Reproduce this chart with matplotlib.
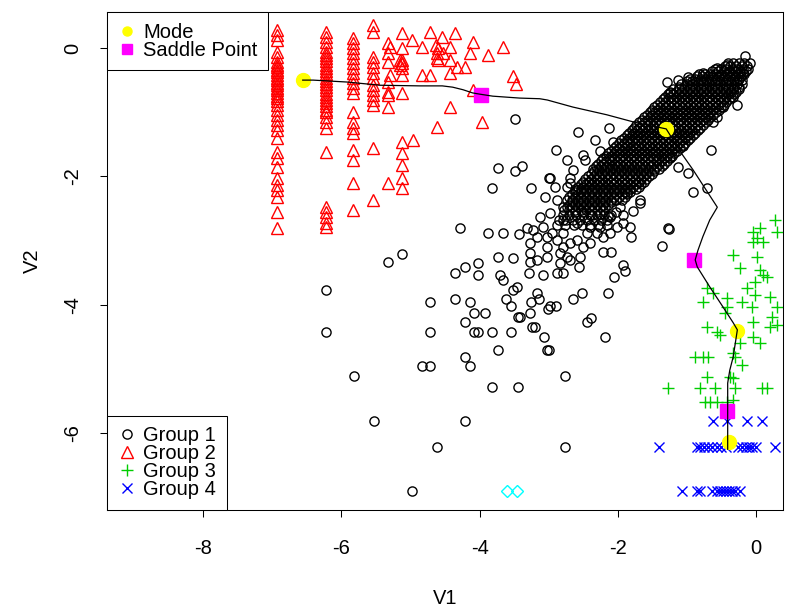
import matplotlib
matplotlib.use("Agg")
import matplotlib.pyplot as plt
from matplotlib.lines import Line2D

plt.rcParams['font.family'] = ['Liberation Sans', 'DejaVu Sans']
plt.rcParams['axes.unicode_minus'] = False

# ---- group 1 (black circles): dense core, one row of x values per y level
core_y = [-0.24, -0.28, -0.32, -0.36, -0.40, -0.44, -0.48, -0.52, -0.56, -0.60,
          -0.64, -0.68, -0.72, -0.76, -0.80, -0.84, -0.88, -0.92, -0.96, -1.00,
          -1.04, -1.08, -1.12, -1.16, -1.20, -1.24, -1.28, -1.32, -1.36, -1.40,
          -1.44, -1.48, -1.52, -1.56, -1.60, -1.64, -1.68, -1.72, -1.76, -1.80,
          -1.84, -1.88, -1.92, -1.96, -2.00, -2.04, -2.08, -2.12, -2.16, -2.20,
          -2.24, -2.28, -2.32, -2.36, -2.40, -2.44, -2.48, -2.52, -2.60, -2.68, -2.76]
core_x = [
    [-0.41, -0.33, -0.25, -0.17, -0.09],
    [-0.45, -0.37, -0.29, -0.21, -0.13],
    [-0.59, -0.51, -0.43, -0.35, -0.27, -0.19, -0.11],
    [-0.63, -0.55, -0.47, -0.39, -0.31, -0.23, -0.15],
    [-0.82, -0.74, -0.66, -0.58, -0.50, -0.42, -0.34, -0.26, -0.18],
    [-0.86, -0.78, -0.70, -0.62, -0.54, -0.46, -0.38, -0.30, -0.22],
    [-0.96, -0.88, -0.80, -0.72, -0.64, -0.56, -0.48, -0.40, -0.32, -0.24],
    [-1.00, -0.92, -0.84, -0.76, -0.68, -0.60, -0.52, -0.44, -0.36, -0.28],
    [-1.08, -1.00, -0.92, -0.84, -0.76, -0.68, -0.60, -0.52, -0.44, -0.36, -0.28, -0.20],
    [-1.12, -1.04, -0.96, -0.88, -0.80, -0.72, -0.64, -0.56, -0.48, -0.40, -0.32, -0.24],
    [-1.20, -1.12, -1.04, -0.96, -0.88, -0.80, -0.72, -0.64, -0.56, -0.48, -0.40, -0.33, -0.25],
    [-1.24, -1.16, -1.08, -1.00, -0.92, -0.84, -0.76, -0.68, -0.60, -0.52, -0.44, -0.37, -0.29],
    [-1.28, -1.20, -1.12, -1.04, -0.96, -0.88, -0.80, -0.72, -0.64, -0.56, -0.48, -0.40, -0.32],
    [-1.32, -1.24, -1.16, -1.08, -1.00, -0.92, -0.84, -0.76, -0.68, -0.60, -0.52, -0.44, -0.36],
    [-1.35, -1.27, -1.19, -1.11, -1.03, -0.95, -0.87, -0.79, -0.71, -0.63, -0.55, -0.47, -0.39],
    [-1.39, -1.31, -1.23, -1.15, -1.07, -0.99, -0.91, -0.83, -0.75, -0.67, -0.59, -0.51, -0.43],
    [-1.43, -1.35, -1.27, -1.19, -1.11, -1.03, -0.95, -0.87, -0.79, -0.71, -0.63, -0.55, -0.47],
    [-1.47, -1.39, -1.31, -1.23, -1.15, -1.07, -0.99, -0.91, -0.83, -0.75, -0.67, -0.59, -0.51],
    [-1.50, -1.42, -1.34, -1.26, -1.18, -1.10, -1.02, -0.94, -0.86, -0.78, -0.70, -0.62, -0.54],
    [-1.54, -1.46, -1.38, -1.30, -1.22, -1.14, -1.06, -0.98, -0.90, -0.82, -0.74, -0.66, -0.58],
    [-1.58, -1.50, -1.42, -1.34, -1.26, -1.18, -1.10, -1.02, -0.94, -0.86, -0.78, -0.70, -0.62],
    [-1.62, -1.54, -1.46, -1.38, -1.30, -1.22, -1.14, -1.06, -0.98, -0.90, -0.82, -0.74, -0.66],
    [-1.65, -1.57, -1.49, -1.41, -1.33, -1.25, -1.17, -1.09, -1.01, -0.93, -0.85, -0.77, -0.69],
    [-1.69, -1.61, -1.53, -1.45, -1.37, -1.29, -1.21, -1.13, -1.05, -0.97, -0.89, -0.81, -0.73],
    [-1.73, -1.65, -1.57, -1.49, -1.41, -1.33, -1.25, -1.17, -1.09, -1.01, -0.93, -0.85, -0.77],
    [-1.77, -1.69, -1.61, -1.53, -1.45, -1.37, -1.29, -1.21, -1.13, -1.05, -0.97, -0.89, -0.81],
    [-1.80, -1.72, -1.64, -1.56, -1.48, -1.40, -1.32, -1.24, -1.16, -1.08, -1.00, -0.92, -0.84],
    [-1.84, -1.76, -1.68, -1.60, -1.52, -1.44, -1.36, -1.28, -1.20, -1.12, -1.04, -0.96, -0.88],
    [-1.87, -1.79, -1.71, -1.63, -1.55, -1.47, -1.39, -1.31, -1.23, -1.15, -1.07, -0.99, -0.91],
    [-1.91, -1.83, -1.75, -1.67, -1.59, -1.51, -1.43, -1.35, -1.27, -1.19, -1.11, -1.03, -0.95],
    [-1.95, -1.87, -1.79, -1.71, -1.63, -1.55, -1.47, -1.39, -1.31, -1.23, -1.15, -1.07, -0.99],
    [-1.99, -1.91, -1.83, -1.75, -1.67, -1.59, -1.51, -1.43, -1.35, -1.27, -1.19, -1.11, -1.03],
    [-2.02, -1.94, -1.86, -1.78, -1.70, -1.62, -1.54, -1.46, -1.38, -1.30, -1.22, -1.14, -1.06],
    [-2.06, -1.98, -1.90, -1.82, -1.74, -1.66, -1.58, -1.50, -1.42, -1.34, -1.26, -1.18, -1.10],
    [-2.10, -2.02, -1.94, -1.86, -1.78, -1.70, -1.62, -1.54, -1.46, -1.38, -1.30, -1.22, -1.14],
    [-2.14, -2.06, -1.98, -1.90, -1.82, -1.74, -1.66, -1.58, -1.50, -1.42, -1.34, -1.26, -1.18],
    [-2.17, -2.09, -2.01, -1.93, -1.85, -1.77, -1.69, -1.61, -1.53, -1.45, -1.37, -1.29, -1.21],
    [-2.21, -2.13, -2.05, -1.97, -1.89, -1.81, -1.73, -1.65, -1.57, -1.49, -1.41, -1.33, -1.25],
    [-2.25, -2.17, -2.09, -2.01, -1.93, -1.85, -1.77, -1.69, -1.61, -1.53, -1.45, -1.37, -1.29],
    [-2.29, -2.21, -2.13, -2.05, -1.97, -1.89, -1.81, -1.73, -1.65, -1.57, -1.49, -1.41, -1.33],
    [-2.32, -2.24, -2.16, -2.08, -2.00, -1.92, -1.84, -1.76, -1.68, -1.60, -1.52, -1.44, -1.36],
    [-2.36, -2.28, -2.20, -2.12, -2.04, -1.96, -1.88, -1.80, -1.72, -1.64, -1.56, -1.48, -1.40],
    [-2.35, -2.27, -2.19, -2.11, -2.03, -1.95, -1.87, -1.79, -1.71, -1.63, -1.55, -1.47],
    [-2.39, -2.31, -2.23, -2.15, -2.07, -1.99, -1.91, -1.83, -1.75, -1.67, -1.59, -1.51],
    [-2.43, -2.35, -2.27, -2.19, -2.11, -2.03, -1.95, -1.87, -1.79, -1.71, -1.63, -1.55],
    [-2.47, -2.39, -2.31, -2.23, -2.15, -2.07, -1.99, -1.91, -1.83, -1.75, -1.67, -1.59],
    [-2.50, -2.42, -2.34, -2.26, -2.18, -2.10, -2.02, -1.94, -1.86, -1.78, -1.70, -1.62],
    [-2.54, -2.46, -2.38, -2.30, -2.22, -2.14, -2.06, -1.98, -1.90, -1.82, -1.74, -1.66],
    [-2.58, -2.50, -2.42, -2.34, -2.26, -2.18, -2.10, -2.02, -1.94, -1.86, -1.78, -1.70],
    [-2.62, -2.54, -2.46, -2.38, -2.30, -2.22, -2.14, -2.06, -1.98, -1.90, -1.82, -1.74],
    [-2.62, -2.54, -2.46, -2.38, -2.30, -2.22, -2.14, -2.06, -1.98, -1.90, -1.82],
    [-2.66, -2.58, -2.50, -2.42, -2.34, -2.26, -2.18, -2.10, -2.02, -1.94, -1.86],
    [-2.70, -2.62, -2.54, -2.46, -2.38, -2.30, -2.22, -2.14, -2.06, -1.98, -1.90],
    [-2.74, -2.66, -2.58, -2.50, -2.42, -2.34, -2.26, -2.18, -2.10, -2.02, -1.94],
    [-2.66, -2.58, -2.50, -2.42, -2.34, -2.26, -2.18, -2.10],
    [-2.70, -2.62, -2.54, -2.46, -2.38, -2.30, -2.22, -2.14],
    [-2.74, -2.66, -2.58, -2.50, -2.42, -2.34, -2.26, -2.18],
    [-2.78, -2.70, -2.62, -2.54, -2.46, -2.38, -2.30, -2.22],
    [-2.80, -2.70, -2.60, -2.50, -2.40, -2.30, -2.20, -2.10],
    [-2.85, -2.75, -2.65, -2.55, -2.45, -2.35, -2.25, -2.15],
    [-2.88, -2.76, -2.64, -2.52, -2.40, -2.28, -2.16],
]

# group 1: scattered points around the core
g1_pts = [
    (-3.49, -1.11), (-2.58, -1.31), (-2.13, -1.25), (-2.89, -1.59), (-2.50, -1.67), (-2.26, -1.60),
    (-3.73, -1.87), (-3.49, -1.92), (-3.39, -1.84), (-3.82, -2.18), (-3.26, -2.18), (-3.00, -2.02),
    (-4.28, -2.80), (-3.88, -2.88), (-3.66, -2.88), (-3.43, -2.90), (-1.81, -2.94),
    (-5.33, -3.33), (-5.12, -3.21), (-4.36, -3.50), (-4.21, -3.41), (-4.02, -3.35), (-4.02, -3.54),
    (-3.73, -3.26), (-3.52, -3.27), (-3.70, -3.54), (-3.66, -3.61), (-3.29, -3.50), (-3.27, -3.33),
    (-3.08, -3.54), (-2.88, -3.50), (-2.79, -3.50), (-2.55, -3.26), (-2.56, -3.41), (-2.21, -3.18),
    (-2.10, -3.18), (-1.92, -3.38), (-1.90, -3.47), (-2.05, -3.57),
    (-4.72, -3.96), (-4.36, -3.91), (-4.14, -3.96), (-4.08, -4.13), (-3.92, -4.13), (-4.21, -4.27),
    (-4.08, -4.42), (-4.02, -4.42), (-3.82, -4.42), (-3.55, -4.42), (-4.72, -4.42), (-3.62, -3.91),
    (-3.55, -4.02), (-3.52, -3.77), (-3.46, -3.72), (-3.44, -4.19), (-3.42, -4.19), (-3.26, -3.96),
    (-3.27, -4.13), (-3.24, -4.35), (-3.20, -4.35), (-3.17, -3.82), (-3.14, -3.91), (-3.01, -4.07),
    (-2.98, -4.02), (-2.89, -4.02), (-3.07, -4.50), (-3.02, -4.70), (-3.00, -4.70), (-3.73, -4.70),
    (-2.65, -3.91), (-2.52, -3.82), (-2.14, -3.82), (-2.45, -4.27), (-2.39, -4.21), (-2.19, -4.50),
    (-4.21, -4.81), (-4.14, -4.95), (-4.83, -4.95), (-4.72, -4.95), (-5.82, -5.11), (-3.82, -5.28),
    (-3.44, -5.28), (-2.76, -5.11), (-5.53, -5.81), (-4.21, -5.81), (-4.62, -6.21), (-2.76, -6.21),
    (-4.98, -6.90), (-6.22, -3.77), (-6.22, -4.42), (-0.16, -0.12), (-0.27, -0.89), (-0.65, -1.59),
    # looser lower end of the cluster
    (-3.31, -2.80), (-3.23, -2.83), (-3.17, -2.94), (-3.27, -3.04), (-3.08, -2.79), (-3.02, -2.94),
    (-2.95, -2.88), (-2.88, -2.99), (-2.79, -2.88), (-2.69, -3.04), (-2.59, -2.99), (-2.50, -3.10),
    (-2.40, -3.04), (-2.30, -2.88), (-2.21, -2.94), (-2.11, -2.88), (-2.01, -2.79), (-1.92, -2.73),
    (-3.27, -3.19), (-3.17, -3.30), (-3.02, -3.26), (-2.84, -3.19), (-2.74, -3.26), (-2.84, -3.35),
    (-2.69, -3.30), (-3.02, -3.10), (-2.79, -3.10), (-3.13, -2.63), (-2.98, -2.57), (-2.79, -2.68),
    (-2.59, -2.73), (-2.40, -2.79), (-2.79, -2.48), (-2.88, -2.37), (-2.69, -2.10), (-2.98, -2.02),
    (-2.91, -2.16), (-3.05, -2.32), (-2.59, -2.21), (-2.62, -2.56), (-2.50, -2.56), (-2.38, -2.60),
    (-2.26, -2.58), (-2.14, -2.62), (-2.02, -2.56),
    # fringe of the core
    (-2.74, -1.74), (-2.74, -2.17), (-2.69, -2.02), (-2.07, -1.46), (-2.11, -1.74), (-1.87, -1.48),
    (-1.72, -1.43), (-1.43, -1.74), (-1.24, -1.70), (-1.13, -1.85), (-0.98, -1.95), (-1.06, -1.51),
    (-0.62, -1.15), (-0.56, -1.07), (-0.48, -0.92), (-0.33, -0.76), (-0.20, -0.50), (-0.19, -0.39),
    (-0.71, -2.18), (-0.91, -2.24), (-1.27, -2.80), (-1.17, -1.56), (-1.29, -0.53), (-1.13, -0.50),
    (-1.24, -0.70), (-0.98, -0.45), (-0.77, -0.39), (-0.56, -0.31), (-0.42, -0.26), (-2.33, -1.43),
    (-2.47, -1.74), (-2.65, -1.90), (-1.87, -2.26), (-1.68, -2.37), (-1.97, -2.48), (-1.68, -2.41),
    (-2.11, -2.63), (-2.26, -2.79), (-1.82, -2.79), (-2.45, -2.88), (-1.78, -2.54), (-1.92, -2.60),
    (-1.26, -2.82), (-1.36, -3.08),
]

# ---- group 2 (red triangles): four columns plus a looser spread
g2_col_x = [-6.93, -6.22, -5.83, -5.54]
g2_col_y = [
    [0.28, 0.20, 0.12, -0.06, -0.14, -0.22, -0.26, -0.30, -0.34, -0.38, -0.42, -0.46, -0.50,
     -0.54, -0.58, -0.62, -0.66, -0.70, -0.74, -0.78, -0.82, -0.89, -0.97, -1.04, -1.12,
     -1.20, -1.28, -1.40, -1.62, -1.71, -1.85, -2.02, -2.13, -2.21, -2.32, -2.55, -2.80],
    [0.25, 0.17, 0.09, 0.02, -0.06, -0.11, -0.16, -0.21, -0.26, -0.31, -0.36, -0.41, -0.46,
     -0.51, -0.56, -0.61, -0.66, -0.71, -0.76, -0.81, -0.86, -0.91, -0.96, -1.00, -1.07,
     -1.15, -1.25, -1.62, -2.48, -2.55, -2.63, -2.73, -2.79],
    [0.16, 0.08, 0.00, -0.08, -0.16, -0.23, -0.31, -0.39, -0.47, -0.55, -0.62, -0.70, -1.00,
     -1.15, -1.25, -1.32, -1.59, -1.74, -2.10, -2.52],
    [0.36, 0.25, -0.14, -0.22, -0.30, -0.39, -0.47, -0.58, -0.65, -0.73, -0.81, -0.89, -1.56, -2.37],
]
g2_pts = [
    (-5.33, 0.08), (-5.33, -0.08), (-5.33, -0.22), (-5.30, -0.42), (-5.33, -0.53), (-5.33, -0.69),
    (-5.33, -0.73), (-5.33, -0.92), (-5.33, -2.10), (-5.12, 0.23), (-5.12, 0.00), (-5.12, -0.19),
    (-5.12, -0.23), (-5.12, -0.31), (-5.12, -0.42), (-5.12, -0.70), (-5.12, -1.46), (-5.12, -1.64),
    (-5.12, -1.82), (-5.12, -2.02), (-5.12, -2.18), (-4.98, 0.12), (-4.96, -1.43), (-4.83, 0.02),
    (-4.72, 0.25), (-4.54, 0.17), (-4.36, 0.23), (-4.72, -0.42), (-4.60, 0.00), (-4.62, -0.08),
    (-4.60, -0.19), (-4.53, -0.08), (-4.43, 0.02), (-4.43, -0.19), (-4.43, -0.39), (-4.21, -0.30),
    (-4.14, -0.08), (-4.10, 0.09), (-3.88, -0.11), (-3.66, 0.02), (-3.52, -0.44), (-3.47, -0.56),
    (-4.43, -0.92), (-4.62, -1.23), (-3.97, -1.15), (-4.10, -0.65), (-4.63, 0.05), (-4.62, -0.16),
    (-5.15, -0.19), (-5.15, -0.26), (-4.33, -0.30), (-4.83, -0.42), (-5.30, 0.01),
]

# ---- group 3 (green plus)
g3_x = [0.28, 0.30, -0.04, 0.06, 0.01, 0.10, -0.04, -0.33, 0.01, -0.23, 0.06, 0.10, 0.16,
        -0.01, -0.13, -0.01, -0.71, -0.62, -0.77, -0.42, -0.42, -0.20, -0.06, 0.20, 0.30,
        0.23, -0.04, -0.71, -0.56, -0.52, 0.20, 0.30, -0.04, 0.06, -0.23, -0.33, -0.88,
        -0.77, -0.70, -0.30, -0.20, -0.33, -0.71, -0.38, -1.27, -0.81, -0.59, -0.30, 0.09,
        0.16, -0.67, -0.56, -0.42, -0.74, -0.33, -0.45]
g3_y = [-2.68, -2.87, -2.87, -2.80, -2.96, -3.02, -3.02, -3.22, -3.26, -3.43, -3.46, -3.54,
        -3.57, -3.64, -3.74, -3.85, -3.74, -3.82, -3.96, -3.89, -4.03, -3.96, -4.03, -3.88,
        -4.03, -4.19, -4.27, -4.35, -4.42, -4.47, -4.35, -4.31, -4.50, -4.60, -4.60, -4.75,
        -4.81, -4.81, -4.81, -4.81, -4.94, -5.14, -5.12, -5.12, -5.30, -5.30, -5.30, -5.30,
        -5.30, -5.30, -5.51, -5.51, -5.51, -5.51, -5.48, -4.13]

# ---- group 4 (blue crosses)
g4_x = [-0.62, -0.42, -0.13, 0.09,
        -1.40, -0.85, -0.81, -0.75, -0.70, -0.64, -0.56, -0.51, -0.43, -0.26, -0.20, -0.15,
        -0.10, -0.06, 0.00, 0.28,
        -1.07, -0.85, -0.81, -0.64, -0.56, -0.52, -0.48, -0.43, -0.39, -0.35, -0.30, -0.23]
g4_y = [-5.81] * 4 + [-6.21] * 16 + [-6.90] * 12

# ---- extra cyan diamonds
g5_x = [-3.60, -3.46]
g5_y = [-6.90, -6.90]

# ---- modes, saddle points and the connecting path
mode_x = [-6.56, -1.30, -0.27, -0.39]
mode_y = [-0.50, -1.26, -4.41, -6.14]
saddle_x = [-3.98, -0.90, -0.42]
saddle_y = [-0.73, -3.30, -5.65]
path_x = [-6.56, -6.41, -5.92, -5.44, -4.86, -4.54, -4.39, -4.24, -4.10, -3.99, -3.81, -3.42,
          -3.13, -3.02, -2.65, -2.16, -1.78, -1.30, -1.06, -0.91, -0.56, -0.67, -0.77, -0.84,
          -0.88, -0.85, -0.67, -0.48, -0.33, -0.27, -0.30, -0.33, -0.38, -0.41, -0.41, -0.41,
          -0.41, -0.41]
path_y = [-0.50, -0.50, -0.53, -0.58, -0.59, -0.59, -0.61, -0.65, -0.70, -0.72, -0.75, -0.78,
          -0.79, -0.81, -0.92, -1.04, -1.15, -1.26, -1.67, -1.90, -2.48, -2.68, -2.94, -3.15,
          -3.30, -3.41, -3.72, -4.03, -4.28, -4.39, -4.60, -4.81, -5.02, -5.22, -5.53, -5.84,
          -6.15, -6.25]

FS = 14.5
fig = plt.figure(figsize=(8.09, 6.12), dpi=100)
ax = fig.add_axes([0.1323, 0.1667, 0.8356, 0.8137])

mew = 1.0
cx, cy = [], []
for yy, row in zip(core_y, core_x):
    for xx in row:
        cx.append(xx)
        cy.append(yy)
ax.plot(cx, cy, ls='none', marker='o', ms=6.6, mfc='none', mec='black', mew=mew)
ax.plot([p[0] for p in g1_pts], [p[1] for p in g1_pts], ls='none', marker='o', ms=6.6,
        mfc='none', mec='black', mew=mew)

for xx, ys in zip(g2_col_x, g2_col_y):
    ax.plot([xx] * len(ys), ys, ls='none', marker='^', ms=8.5, mfc='none', mec='red', mew=mew)
ax.plot([p[0] for p in g2_pts], [p[1] for p in g2_pts], ls='none', marker='^', ms=8.5,
        mfc='none', mec='red', mew=mew)

ax.plot(g3_x, g3_y, ls='none', marker='+', ms=9, mec='#00CD00', mew=mew)
ax.plot(g4_x, g4_y, ls='none', marker='x', ms=7, mec='blue', mew=mew)
ax.plot(g5_x, g5_y, ls='none', marker='D', ms=6.5, mfc='none', mec='cyan', mew=mew)

ax.plot(mode_x, mode_y, ls='none', marker='o', ms=10, mfc='yellow', mec='yellow')
ax.plot(saddle_x, saddle_y, ls='none', marker='s', ms=10, mfc='magenta', mec='magenta')
ax.plot(path_x, path_y, color='black', lw=0.9)

ax.set_xlim(-9.392, 0.391)
ax.set_ylim(-7.196, 0.561)
ax.set_xticks([-8, -6, -4, -2, 0])
ax.set_yticks([0, -2, -4, -6])
ax.tick_params(direction='out', length=5, width=0.75, labelsize=FS, color='black')
ax.tick_params(axis='x', pad=16)
ax.tick_params(axis='y', pad=13)
for lab in ax.get_yticklabels():
    lab.set_rotation(90)
    lab.set_va('center')
for sp in ax.spines.values():
    sp.set_linewidth(0.75)
ax.set_xlabel('V1', fontsize=FS, labelpad=22)
ax.set_ylabel('V2', fontsize=FS, labelpad=15)

leg_kw = dict(borderaxespad=0, fancybox=False, edgecolor='black', framealpha=1, fontsize=FS,
              handlelength=0.95, handletextpad=0.32, labelspacing=-0.05, borderpad=0.53)
h_top = [Line2D([], [], ls='none', marker='o', ms=6.5, mfc='yellow', mec='yellow'),
         Line2D([], [], ls='none', marker='s', ms=6.5, mfc='magenta', mec='magenta')]
leg1 = ax.legend(h_top, ['Mode', 'Saddle Point'], loc='upper left', **leg_kw)
leg1.get_frame().set_linewidth(0.75)
ax.add_artist(leg1)

h_bot = [Line2D([], [], ls='none', marker='o', ms=6.6, mfc='none', mec='black', mew=mew),
         Line2D([], [], ls='none', marker='^', ms=8.5, mfc='none', mec='red', mew=mew),
         Line2D([], [], ls='none', marker='+', ms=9, mec='#00CD00', mew=mew),
         Line2D([], [], ls='none', marker='x', ms=7, mec='blue', mew=mew)]
leg2 = ax.legend(h_bot, ['Group 1', 'Group 2', 'Group 3', 'Group 4'], loc='lower left', **leg_kw)
leg2.get_frame().set_linewidth(0.75)

fig.savefig('out.png', dpi=100)
